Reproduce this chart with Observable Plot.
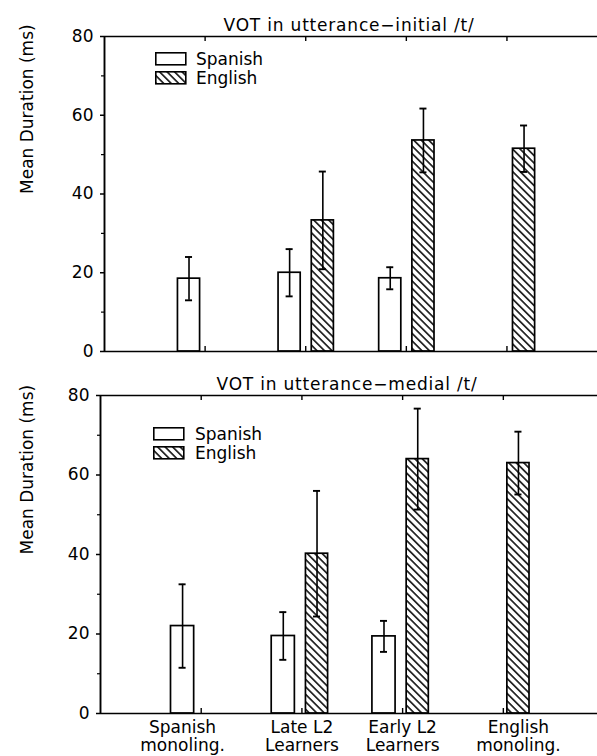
<!DOCTYPE html>
<html>
<head>
<meta charset="utf-8">
<script src="https://cdn.jsdelivr.net/npm/d3@7"></script>
<script src="https://cdn.jsdelivr.net/npm/@observablehq/plot@0.6"></script>
<style>
  body { margin: 0; background: #fff; }
  #chart { position: relative; width: 597px; height: 756px; font-family: "DejaVu Sans", sans-serif; color: #000; overflow: hidden; }
  #chart > svg.plot-panel { position: absolute; left: 0; }
  .legend { position: absolute; font: 17px "DejaVu Sans", sans-serif; color: #000; }
  .legend .row { position: relative; height: 19px; width: 140px; }
  .legend .row svg { position: absolute; left: 0; top: 0; }
  .legend .row span { position: absolute; top: -1.5px; line-height: 17px; white-space: nowrap; }
</style>
</head>
<body>
<svg width="0" height="0" style="position:absolute">
  <defs>
    <pattern id="hatch" patternUnits="userSpaceOnUse" width="8" height="5.3" patternTransform="rotate(45)">
      <rect width="8" height="5.3" fill="#fff"></rect>
      <line x1="-1" y1="2.65" x2="9" y2="2.65" stroke="#000" stroke-width="1.5"></line>
    </pattern>
  </defs>
</svg>
<div id="chart"></div>
<script>
// ---------------- data ----------------
const categories = ["Spanish monoling.", "Late L2 Learners", "Early L2 Learners", "English monoling."];
const categoryLabels = ["Spanish\nmonoling.", "Late L2\nLearners", "Early L2\nLearners", "English\nmonoling."];
const languages = ["Spanish", "English"];
const panelTitles = ["VOT in utterance\u2212initial /t/", "VOT in utterance\u2212medial /t/"];
const yLabel = "Mean Duration (ms)";
const yTicks = [0, 20, 40, 60, 80];
const yMinorTicks = [10, 30, 50, 70];

// utterance-initial /t/
const initialSpanish    = [18.5, 20.0, 18.6, null];
const initialSpanishErr = [5.5, 6.0, 2.8, null];
const initialEnglish    = [null, 33.3, 53.6, 51.5];
const initialEnglishErr = [null, 12.4, 8.1, 5.9];

// utterance-medial /t/
const medialSpanish    = [22.0, 19.5, 19.4, null];
const medialSpanishErr = [10.5, 6.0, 3.9, null];
const medialEnglish    = [null, 40.2, 64.0, 63.0];
const medialEnglishErr = [null, 15.8, 12.7, 7.9];

// ---------------- layout ----------------
const W = 597;
const panels = [
  { title: panelTitles[0], spanish: initialSpanish, spanishErr: initialSpanishErr, english: initialEnglish, englishErr: initialEnglishErr,
    top: 0, height: 370, marginTop: 36, marginBottom: 19, marginLeft: 104, xMax: 4.9,
    spOff: [-0.27, -0.05], enOff: [0.06, 0.28], showLabels: false, legend: { left: 155, top: 52, textLeft: 41 } },
  { title: panelTitles[1], spanish: medialSpanish, spanishErr: medialSpanishErr, english: medialEnglish, englishErr: medialEnglishErr,
    top: 370, height: 386, marginTop: 25, marginBottom: 43, marginLeft: 100, xMax: 4.935,
    spOff: [-0.30, -0.07], enOff: [0.04, 0.26], showLabels: true, legend: { left: 153, top: 427, textLeft: 42 } }
];

const chart = document.getElementById("chart");

function buildPanel(p) {
  const rows = [];
  categories.forEach((c, i) => {
    if (p.spanish[i] != null) rows.push({ cat: c, pos: i + 1, lang: languages[0], value: p.spanish[i], err: p.spanishErr[i], x1: i + 1 + p.spOff[0], x2: i + 1 + p.spOff[1] });
    if (p.english[i] != null) rows.push({ cat: c, pos: i + 1, lang: languages[1], value: p.english[i], err: p.englishErr[i], x1: i + 1 + p.enOff[0], x2: i + 1 + p.enOff[1] });
  });
  rows.forEach(d => d.cx = (d.x1 + d.x2) / 2);
  const sp = rows.filter(d => d.lang === "Spanish");
  const en = rows.filter(d => d.lang === "English");
  const positions = categories.map((c, i) => i + 1);
  const labelData = categories.map((c, i) => {
    const own = rows.filter(d => d.pos === i + 1);
    return { label: categoryLabels[i], x: own.length === 1 ? own[0].cx : i + 1 };
  });
  const frameH = p.height - p.marginTop - p.marginBottom;
  const capHalf = 0.035;

  const marks = [
    // bars
    Plot.rect(sp, { x1: "x1", x2: "x2", y1: 0, y2: "value", fill: "#fff", stroke: "#000", strokeWidth: 1.7 }),
    Plot.rect(en, { x1: "x1", x2: "x2", y1: 0, y2: "value", fill: "url(#hatch)", stroke: "#000", strokeWidth: 1.7 }),
    // error bars
    Plot.ruleX(rows, { x: "cx", y1: d => d.value - d.err, y2: d => d.value + d.err, stroke: "#000", strokeWidth: 1.6 }),
    Plot.ruleY(rows, { y: d => d.value + d.err, x1: d => d.cx - capHalf, x2: d => d.cx + capHalf, stroke: "#000", strokeWidth: 1.9 }),
    Plot.ruleY(rows, { y: d => d.value - d.err, x1: d => d.cx - capHalf, x2: d => d.cx + capHalf, stroke: "#000", strokeWidth: 1.9 }),
    // frame lines
    Plot.ruleY([0, 80], { stroke: "#000", strokeWidth: 1.7 }),
    Plot.ruleX([0], { stroke: "#000", strokeWidth: 1.9 }),
    // category ticks (top, pointing down; bottom, pointing up)
    Plot.ruleX(positions, { x: d => d, insetBottom: frameH - 5, stroke: "#000", strokeWidth: 1.4 }),
    Plot.ruleX(positions, { x: d => d, insetTop: frameH - 5, stroke: "#000", strokeWidth: 1.4 }),
    // y axis
    Plot.axisY({ ticks: yTicks, tickSize: 4, tickPadding: 7, label: null, strokeWidth: 1.5, fontSize: 17 }),
    Plot.axisY({ ticks: yMinorTicks, tickSize: 3, tickFormat: () => "", label: null, strokeWidth: 1.2 }),
    // y label
    Plot.text([yLabel], { frameAnchor: "left", rotate: -90, dx: -(p.marginLeft - 27), fontSize: 17, fill: "#000" }),
    // title
    Plot.text([p.title], { frameAnchor: "top", dy: -18, fontSize: 17, fill: "#000", dx: -2 })
  ];
  if (p.showLabels) {
    marks.push(Plot.text(labelData, { x: "x", text: "label", frameAnchor: "bottom", lineAnchor: "top", dy: 6, lineHeight: 1.1, fontSize: 17, fill: "#000" }));
  }

  const svg = Plot.plot({
    width: W,
    height: p.height,
    marginTop: p.marginTop,
    marginBottom: p.marginBottom,
    marginLeft: p.marginLeft,
    marginRight: 0,
    x: { type: "linear", domain: [0, p.xMax], axis: null },
    y: { domain: [0, 80], axis: null },
    style: { fontFamily: "DejaVu Sans, sans-serif", fontSize: "17px", color: "#000", background: "transparent", overflow: "visible" },
    marks
  });
  svg.classList.add("plot-panel");
  svg.style.top = p.top + "px";
  svg.style.position = "absolute";
  svg.querySelectorAll("text").forEach(t => {
    if (t.textContent === p.title) t.style.letterSpacing = "0.8px";
  });
  chart.appendChild(svg);

  // legend
  const lg = document.createElement("div");
  lg.className = "legend";
  lg.style.left = p.legend.left + "px";
  lg.style.top = p.legend.top + "px";
  languages.forEach(lang => {
    const row = document.createElement("div");
    row.className = "row";
    const fill = lang === "Spanish" ? "#fff" : "url(#hatch)";
    row.innerHTML = `<svg width="32" height="14"><rect x="0.8" y="0.8" width="30" height="12" fill="${fill}" stroke="#000" stroke-width="1.6"></rect></svg><span style="left:${p.legend.textLeft}px">${lang}</span>`;
    lg.appendChild(row);
  });
  chart.appendChild(lg);
}

panels.forEach(buildPanel);
</script>
</body>
</html>
